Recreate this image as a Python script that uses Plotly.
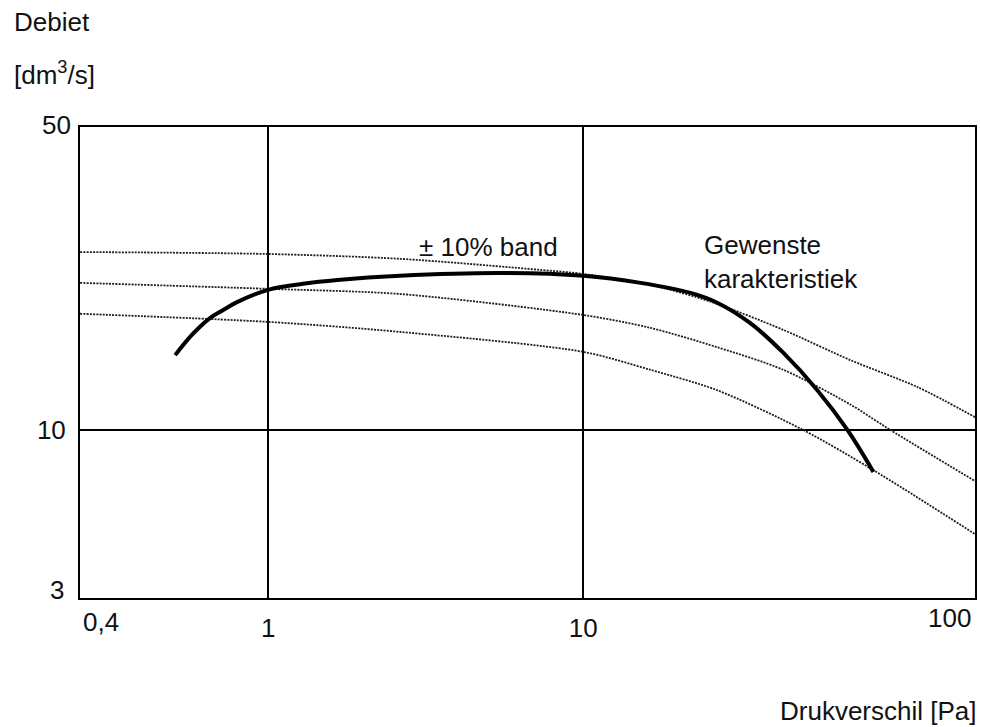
import math
import plotly.graph_objects as go

# ---- data ----
# Desired characteristic (solid): pressure difference [Pa] vs flow [dm3/s]
char_x = [0.507, 0.574, 0.654, 0.714, 0.797, 1.0, 1.29, 1.66, 2.62, 5.45, 10.0, 15.2, 21.9, 26.6, 33.9, 43.1, 55.3, 68.9, 83.3]
char_y = [17.1, 19.8, 22.3, 23.5, 25.0, 27.3, 28.5, 29.3, 30.2, 30.8, 30.2, 28.7, 26.7, 24.9, 21.5, 17.4, 13.3, 10.0, 7.4]

# +/-10% band (dotted)
upper_x = [0.253, 1.0, 2.62, 7.3, 10.0, 16.3, 25.3, 43.1, 70.4, 115, 177]
upper_y = [35.8, 35.3, 34.1, 31.5, 30.6, 28.3, 25.1, 20.5, 16.5, 13.6, 10.9]

middle_x = [0.253, 1.0, 2.62, 10.0, 16.3, 26.6, 43.1, 70.4, 94.3, 177]
middle_y = [28.7, 27.5, 26.5, 22.8, 20.8, 18.1, 15.4, 12.0, 10.0, 6.89]

lower_x = [0.253, 1.0, 2.62, 10.0, 16.3, 26.6, 49.9, 83.3, 177]
lower_y = [23.0, 21.7, 20.2, 17.5, 15.4, 13.3, 10.0, 7.5, 4.71]

x_grid_ticks = [1, 10]
x_grid_text = ["1", "10"]
y_grid_ticks = [10]
y_grid_text = ["10"]

X_MIN, X_MAX = 0.253, 175.0
Y_MIN, Y_MAX = 3.0, 87.7

FONT = "Arial, Liberation Sans, Helvetica, sans-serif"
W, H = 981, 727
L, R, T, B = 80, 6, 127, 129

fig = go.Figure()

dot_style = dict(color="#1e1e1e", width=1.8, dash="2px,1.2px")
for xs, ys in [(upper_x, upper_y), (middle_x, middle_y), (lower_x, lower_y)]:
    fig.add_trace(go.Scatter(x=xs, y=ys, mode="lines", line=dict(shape="spline", smoothing=0.8, **dot_style),
                             hoverinfo="skip", showlegend=False))

fig.add_trace(go.Scatter(x=char_x, y=char_y, mode="lines",
                         line=dict(color="#000000", width=4, shape="spline", smoothing=1.0),
                         showlegend=False))

def px(xp):
    return (xp - L) / (W - L - R)

def py(yp):
    return (H - B - yp) / (H - T - B)

annos = [
    dict(text="Debiet", x=px(12), y=py(22), xanchor="left", yanchor="middle"),
    dict(text="[dm<sup>3</sup>/s]", x=px(12), y=py(73), xanchor="left", yanchor="middle"),
    dict(text="50", x=px(73), y=py(125), xanchor="right", yanchor="middle"),
    dict(text="3", x=px(66), y=py(590), xanchor="right", yanchor="middle"),
    dict(text="0,4", x=px(81), y=py(622), xanchor="left", yanchor="middle"),
    dict(text="100", x=px(973), y=py(618), xanchor="right", yanchor="middle"),
    dict(text="Drukverschil [Pa]", x=px(979), y=py(711), xanchor="right", yanchor="middle"),
    dict(text="± 10% band", x=px(417), y=py(247), xanchor="left", yanchor="middle"),
    dict(text="Gewenste<br>karakteristiek", x=px(702), y=py(262), xanchor="left", yanchor="middle", align="left"),
]
for a in annos:
    fig.add_annotation(xref="paper", yref="paper", showarrow=False,
                       font=dict(family=FONT, size=26, color="#111111"), **a)

fig.update_xaxes(type="log", range=[math.log10(X_MIN), math.log10(X_MAX)],
                 tickvals=x_grid_ticks, ticktext=x_grid_text, ticks="", ticklabelstandoff=6,
                 showgrid=True, gridcolor="#000000", gridwidth=2,
                 showline=True, linecolor="#000000", linewidth=2, mirror=True,
                 zeroline=False, tickfont=dict(family=FONT, size=26, color="#111111"))
fig.update_yaxes(type="log", range=[math.log10(Y_MIN), math.log10(Y_MAX)],
                 tickvals=y_grid_ticks, ticktext=y_grid_text, ticks="", ticklabelstandoff=7,
                 showgrid=True, gridcolor="#000000", gridwidth=2,
                 showline=True, linecolor="#000000", linewidth=2, mirror=True,
                 zeroline=False, tickfont=dict(family=FONT, size=26, color="#111111"))

fig.update_layout(width=W, height=H, margin=dict(l=L, r=R, t=T, b=B, autoexpand=False),
                  paper_bgcolor="white", plot_bgcolor="white", showlegend=False,
                  font=dict(family=FONT))

fig.write_html("out.html", config={"displayModeBar": False, "staticPlot": True})

# remove the default page margin so the figure sits at the window's top-left corner
with open("out.html", "r", encoding="utf-8") as f:
    html = f.read()
html = html.replace("<head>", "<head><style>html,body{margin:0;padding:0;overflow:hidden;}</style>", 1)
with open("out.html", "w", encoding="utf-8") as f:
    f.write(html)
